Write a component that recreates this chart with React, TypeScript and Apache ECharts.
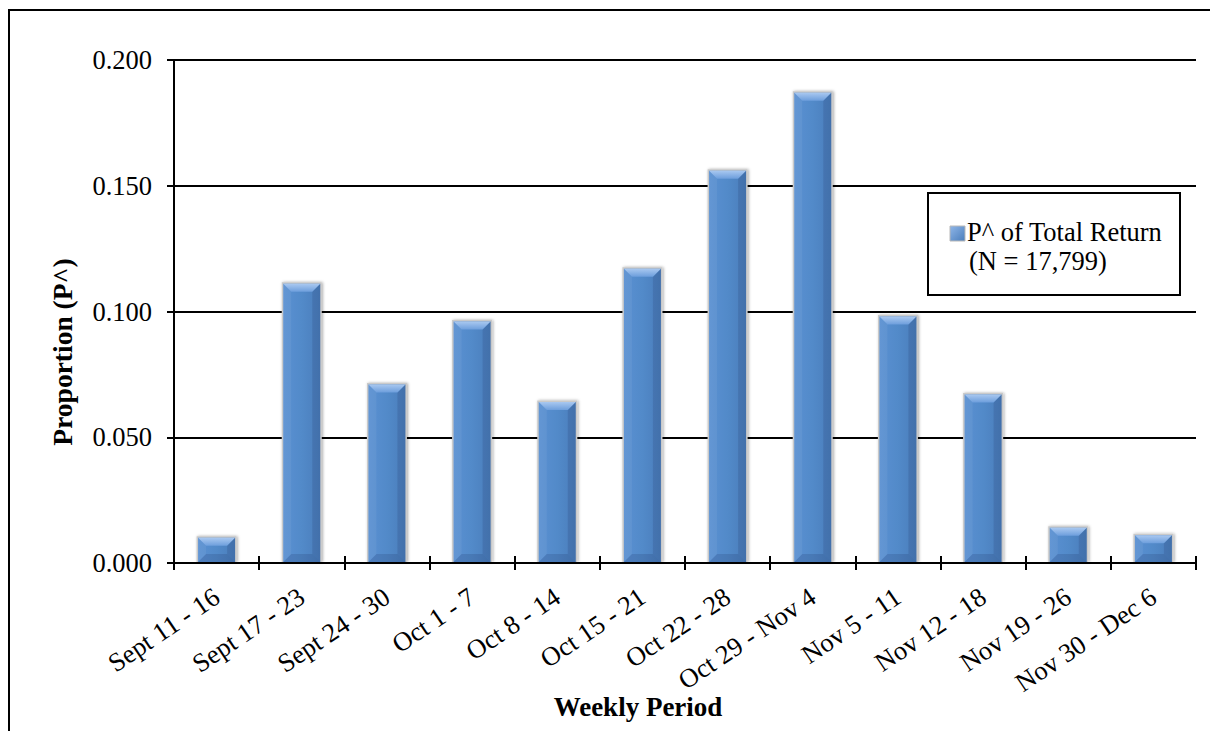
import React, { useEffect, useRef } from "react";
import * as echarts from "echarts";

const categories = [
  "Sept 11 - 16",
  "Sept 17 - 23",
  "Sept 24 - 30",
  "Oct 1 - 7",
  "Oct 8 - 14",
  "Oct 15 - 21",
  "Oct 22 - 28",
  "Oct 29 - Nov 4",
  "Nov 5 - 11",
  "Nov 12 - 18",
  "Nov 19 - 26",
  "Nov 30 - Dec 6",
];
const proportions = [0.010, 0.111, 0.071, 0.096, 0.064, 0.117, 0.156, 0.187, 0.098, 0.067, 0.014, 0.011];
const seriesName = "P^ of Total Return";
const seriesNote = "(N = 17,799)";
const yAxisTitle = "Proportion (P^)";
const xAxisTitle = "Weekly Period";

const FONT = "'Liberation Serif', 'Times New Roman', serif";

export default function App() {
  const ref = useRef<HTMLDivElement>(null);
  useEffect(() => {
    if (!ref.current) return;
    const chart = echarts.init(ref.current, null, { renderer: "svg" });
    const barW = 37;
    const bev = 8;
    chart.setOption({
      animation: false,
      backgroundColor: "#ffffff",
      grid: { left: 166, top: 52, right: 14, bottom: 168, containLabel: false },
      xAxis: [
        {
          type: "category",
          data: categories,
          boundaryGap: true,
          axisLine: { show: true, lineStyle: { color: "#000", width: 2 } },
          axisTick: { show: true, length: 7, interval: 0, lineStyle: { color: "#000", width: 2 } },
          axisLabel: {
            interval: 0,
            rotate: 34,
            margin: 31,
            fontFamily: FONT,
            fontSize: 26.5,
            color: "#000",
          },
          splitLine: { show: false },
        },
        {
          type: "category",
          data: categories,
          position: "bottom",
          boundaryGap: true,
          axisLine: { show: false },
          axisTick: { show: true, inside: true, length: 7, interval: 0, lineStyle: { color: "#000", width: 2 } },
          axisLabel: { show: false },
          splitLine: { show: false },
        },
      ],
      yAxis: {
        type: "value",
        min: 0,
        max: 0.2,
        interval: 0.05,
        axisLine: { show: true, lineStyle: { color: "#000", width: 2 } },
        axisTick: { show: true, length: 7, lineStyle: { color: "#000", width: 2 } },
        axisLabel: {
          margin: 22,
          fontFamily: FONT,
          fontSize: 26.5,
          color: "#000",
          formatter: (v: number) => v.toFixed(3),
        },
        splitLine: { show: true, lineStyle: { color: "#000", width: 2 } },
      },
      series: [
        {
          name: seriesName,
          type: "custom",
          data: proportions.map((v, i) => [i, v]),
          encode: { x: 0, y: 1 },
          renderItem: (params: any, api: any) => {
            const top = api.coord([api.value(0), api.value(1)]);
            const base = api.coord([api.value(0), 0]);
            const x0 = top[0] - barW / 2;
            const x1 = top[0] + barW / 2;
            const y0 = top[1];
            const y1 = base[1] - 1;
            const h = y1 - y0;
            const b = Math.min(bev, h / 2, barW / 2);
            return {
              type: "group",
              children: [
                {
                  type: "rect",
                  shape: { x: x0 - 1.5, y: y0 - 1.5, width: barW + 3, height: h + 1.5 },
                  style: {
                    fill: "#c9c9c9",
                    shadowBlur: 3,
                    shadowColor: "rgba(0,0,0,0.35)",
                    shadowOffsetX: 1,
                    shadowOffsetY: 0,
                  },
                },
                {
                  type: "rect",
                  shape: { x: x0, y: y0, width: barW, height: h },
                  style: {
                    fill: new echarts.graphic.LinearGradient(0, 0, 1, 0, [
                      { offset: 0, color: "#5a90d2" },
                      { offset: 0.5, color: "#528ac9" },
                      { offset: 1, color: "#4a7dbb" },
                    ]),
                  },
                },
                {
                  type: "polygon",
                  shape: { points: [[x0, y0], [x0 + b, y0 + b], [x0 + b, y1 - b], [x0, y1]] },
                  style: { fill: "rgba(255,255,255,0.06)" },
                },
                {
                  type: "polygon",
                  shape: { points: [[x1, y0], [x1 - b, y0 + b], [x1 - b, y1 - b], [x1, y1]] },
                  style: { fill: "rgba(0,0,40,0.10)" },
                },
                {
                  type: "polygon",
                  shape: { points: [[x0, y0], [x1, y0], [x1 - b, y0 + b], [x0 + b, y0 + b]] },
                  style: {
                    fill: new echarts.graphic.LinearGradient(0, 0, 0, 1, [
                      { offset: 0, color: "#a9c8f0" },
                      { offset: 1, color: "#6d9edc" },
                    ]),
                  },
                },
                {
                  type: "polygon",
                  shape: { points: [[x0, y1], [x1, y1], [x1 - b, y1 - b], [x0 + b, y1 - b]] },
                  style: { fill: "rgba(0,0,40,0.12)" },
                },
              ],
            };
          },
        },
      ],
      graphic: [
        { type: "line", shape: { x1: 1, y1: 1, x2: 1, y2: 800 }, style: { stroke: "#000", lineWidth: 2 } },
        { type: "line", shape: { x1: 0, y1: 2, x2: 1400, y2: 2 }, style: { stroke: "#000", lineWidth: 2 } },
        {
          type: "text",
          x: 54,
          y: 344,
          rotation: Math.PI / 2,
          style: {
            text: yAxisTitle,
            fontFamily: FONT,
            fontSize: 27.5,
            fontWeight: "bold",
            fill: "#000",
            align: "center",
            verticalAlign: "middle",
          },
        },
        {
          type: "text",
          x: 630,
          y: 699,
          style: {
            text: xAxisTitle,
            fontFamily: FONT,
            fontSize: 27,
            fontWeight: "bold",
            fill: "#000",
            align: "center",
            verticalAlign: "middle",
          },
        },
        {
          type: "rect",
          shape: { x: 920, y: 185, width: 252, height: 102 },
          style: { fill: "#fff", stroke: "#000", lineWidth: 2 },
          z: 10,
        },
        {
          type: "rect",
          shape: { x: 942, y: 218, width: 15, height: 15 },
          style: {
            fill: new echarts.graphic.LinearGradient(0, 0, 1, 1, [
              { offset: 0, color: "#8fb6e8" },
              { offset: 1, color: "#4a7dbb" },
            ]),
            stroke: "#b8b8b8",
            lineWidth: 1,
          },
          z: 11,
        },
        {
          type: "text",
          x: 959,
          y: 224,
          style: {
            text: seriesName,
            fontFamily: FONT,
            fontSize: 26.5,
            fill: "#000",
            align: "left",
            verticalAlign: "middle",
          },
          z: 11,
        },
        {
          type: "text",
          x: 961,
          y: 253,
          style: {
            text: seriesNote,
            fontFamily: FONT,
            fontSize: 26.5,
            fill: "#000",
            align: "left",
            verticalAlign: "middle",
          },
          z: 11,
        },
      ],
    });
    return () => chart.dispose();
  }, []);
  return <div ref={ref} style={{ width: 1202, height: 723 }} />;
}
